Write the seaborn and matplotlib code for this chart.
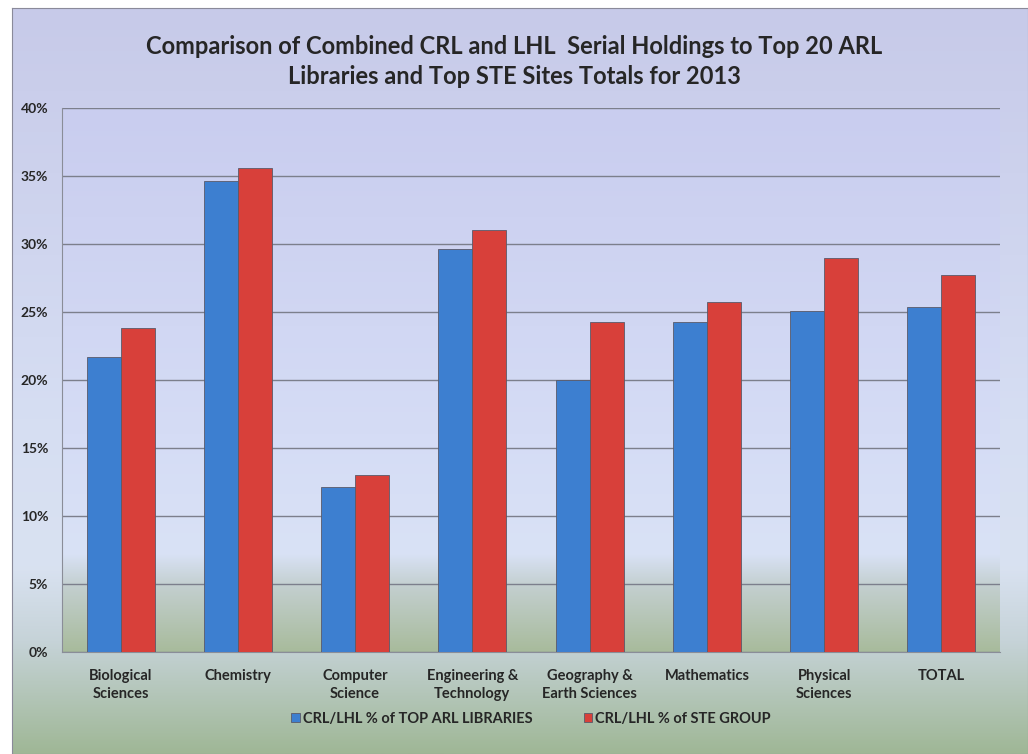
import pandas as pd
import matplotlib.pyplot as plt
import matplotlib.colors as mcolors
import seaborn as sns
import numpy as np

categories = ["Biological\nSciences", "Chemistry", "Computer\nScience", "Engineering &\nTechnology",
              "Geography &\nEarth Sciences", "Mathematics", "Physical\nSciences", "TOTAL"]
arl_pct = [21.7, 34.6, 12.1, 29.6, 20.0, 24.3, 25.1, 25.4]
ste_pct = [23.8, 35.6, 13.0, 31.0, 24.3, 25.7, 29.0, 27.7]
series = ["CRL/LHL % of TOP ARL LIBRARIES", "CRL/LHL % of STE GROUP"]
yticks = [0, 5, 10, 15, 20, 25, 30, 35, 40]

df = pd.DataFrame({
    "cat": categories * 2,
    "val": arl_pct + ste_pct,
    "series": [series[0]] * len(categories) + [series[1]] * len(categories),
})

sns.set_style("white")
plt.rcParams["font.family"] = ["Lato", "DejaVu Sans"]
plt.rcParams["font.weight"] = "bold"

fig = plt.figure(figsize=(10.28, 7.54), dpi=100)
fig.patch.set_facecolor("white")

# panel background gradient (lavender -> pale blue -> green)
bg = fig.add_axes([12 / 1028, 0, 1 - 12 / 1028, 1 - 8 / 754], zorder=-10)
bg_cmap = mcolors.LinearSegmentedColormap.from_list(
    "bg", [(0, "#c7cae9"), (0.55, "#d6def3"), (0.75, "#d9e2f1"), (0.85, "#c6d3d8"), (1, "#9fb796")])
bg.imshow(np.linspace(0, 1, 256).reshape(-1, 1), aspect="auto", cmap=bg_cmap, extent=[0, 1, 0, 1])
bg.set_xticks([])
bg.set_yticks([])
for s in bg.spines.values():
    s.set_color("#8a8a9a")

ax = fig.add_axes([62 / 1028, 1 - 652 / 754, 938 / 1028, 544 / 754])
ax_cmap = mcolors.LinearSegmentedColormap.from_list(
    "ax", [(0, "#c9cdef"), (0.6, "#d5dcf5"), (0.82, "#d9e2f6"), (0.88, "#c3cfcf"), (1, "#a8bb9c")])

sns.barplot(data=df, x="cat", y="val", hue="series", palette=["#3d7fd0", "#d8403a"],
            width=0.58, gap=0, edgecolor="#5a5a6a", linewidth=0.6, saturation=1, ax=ax, zorder=3)

ax.imshow(np.linspace(0, 1, 256).reshape(-1, 1), aspect="auto", cmap=ax_cmap,
          extent=[-0.5, len(categories) - 0.5, 0, 40], zorder=0)
ax.set_xlim(-0.5, len(categories) - 0.5)
ax.set_ylim(0, 40)
ax.set_yticks(yticks)
ax.set_yticklabels([f"{t}%" for t in yticks], fontsize=10, fontweight="bold")
ax.yaxis.grid(True, color="#7c7f8c", linewidth=1, zorder=1)
ax.set_axisbelow(True)
ax.set_xlabel("")
ax.set_ylabel("")
ax.tick_params(axis="x", labelsize=10.5, pad=12, length=0)
ax.tick_params(axis="y", pad=10, length=0)
for lbl in ax.get_xticklabels():
    lbl.set_fontweight("bold")
    lbl.set_linespacing(1.4)
for s in ["top", "right"]:
    ax.spines[s].set_visible(False)
ax.spines["left"].set_color("#8a8d98")
ax.spines["bottom"].set_color("#8a8d98")
ax.set_facecolor("none")

ax.legend(loc="upper center", bbox_to_anchor=(0.5, -0.086), ncol=2, frameon=False,
          handlelength=0.6, handleheight=0.6, columnspacing=3.5, handletextpad=0.2,
          prop={"weight": "bold", "size": 10.5})

fig.text(0.5, 0.953, "Comparison of Combined CRL and LHL  Serial Holdings to Top 20 ARL\nLibraries and Top STE Sites Totals for 2013",
         ha="center", va="top", fontsize=17, fontweight="bold", linespacing=1.35)

fig.savefig("out.png", dpi=100)
